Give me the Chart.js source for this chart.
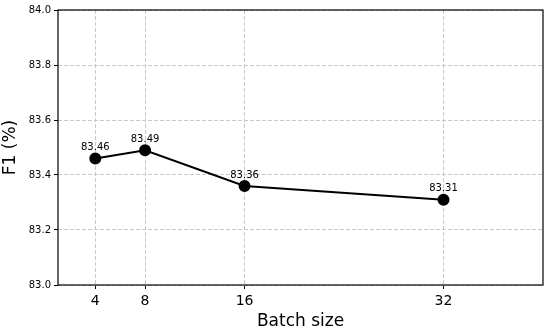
<!DOCTYPE html>
<html>
<head>
<meta charset="utf-8">
<script src="https://cdn.jsdelivr.net/npm/chart.js@4/dist/chart.umd.min.js"></script>
<style>
  html, body { margin: 0; padding: 0; background: #fff; }
  #wrap { width: 550px; height: 332px; position: relative; }
</style>
</head>
<body>
<div id="wrap"><canvas id="f1Chart"></canvas></div>
<script>
// data
const batchSizes = [4, 8, 16, 32];
const f1Scores = [83.46, 83.49, 83.36, 83.31];
const xTicks = [4, 8, 16, 32];
const yTicks = [83.0, 83.2, 83.4, 83.6, 83.8, 84.0];

const FONT = "'DejaVu Sans', sans-serif";

// labels above each point
const pointLabels = {
    id: 'pointLabels',
    afterDatasetsDraw(chart) {
        const ctx = chart.ctx;
        const meta = chart.getDatasetMeta(0);
        ctx.save();
        ctx.font = '10px ' + FONT;
        ctx.fillStyle = '#000';
        ctx.textAlign = 'center';
        ctx.textBaseline = 'bottom';
        meta.data.forEach((pt, i) => {
            ctx.fillText(f1Scores[i].toFixed(2), pt.x, pt.y - 6);
        });
        ctx.restore();
    }
};

// frame round the plot area
const frame = {
    id: 'frame',
    afterDraw(chart) {
        const { left, right, top, bottom } = chart.chartArea;
        const ctx = chart.ctx;
        ctx.save();
        ctx.strokeStyle = '#000';
        ctx.lineWidth = 1.2;
        ctx.strokeRect(left, top, right - left, bottom - top);
        ctx.restore();
    }
};

function initChart() {
    const ctx = document.getElementById('f1Chart').getContext('2d');
    new Chart(ctx, {
        type: 'line',
        data: {
            datasets: [{
                data: batchSizes.map((b, i) => ({ x: b, y: f1Scores[i] })),
                borderColor: '#000',
                backgroundColor: '#000',
                borderWidth: 2,
                pointRadius: 5,
                pointHoverRadius: 5,
                tension: 0
            }]
        },
        options: {
            responsive: true,
            maintainAspectRatio: false,
            animation: false,
            layout: { padding: { top: 10, right: 7, left: 0, bottom: 0 } },
            plugins: {
                legend: { display: false },
                tooltip: { enabled: false }
            },
            scales: {
                x: {
                    type: 'linear',
                    min: 1,
                    max: 40,
                    afterBuildTicks: axis => { axis.ticks = xTicks.map(v => ({ value: v })); },
                    afterFit: axis => { axis.height = 47; },
                    grid: {
                        color: '#c8c8c8',
                        lineWidth: 1,
                        drawTicks: true,
                        tickLength: 4,
                        tickColor: '#000'
                    },
                    border: { display: false, dash: [4, 2] },
                    ticks: {
                        color: '#000',
                        font: { family: FONT, size: 14 },
                        padding: 4,
                        maxRotation: 0,
                        autoSkip: false
                    },
                    title: {
                        display: true,
                        text: 'Batch size',
                        color: '#000',
                        font: { family: FONT, size: 17 },
                        padding: { top: 0, bottom: 0 }
                    }
                },
                y: {
                    min: 83.0,
                    max: 84.0,
                    afterBuildTicks: axis => { axis.ticks = yTicks.map(v => ({ value: v })); },
                    afterFit: axis => { axis.width = 58; },
                    grid: {
                        color: '#c8c8c8',
                        lineWidth: 1,
                        drawTicks: true,
                        tickLength: 4,
                        tickColor: '#000'
                    },
                    border: { display: false, dash: [4, 2] },
                    ticks: {
                        color: '#000',
                        font: { family: FONT, size: 10 },
                        padding: 3,
                        callback: v => Number(v).toFixed(1)
                    },
                    title: {
                        display: true,
                        text: 'F1 (%)',
                        color: '#000',
                        font: { family: FONT, size: 17 },
                        padding: { top: 0, bottom: 2 }
                    }
                }
            }
        },
        plugins: [pointLabels, frame]
    });
}

document.addEventListener('DOMContentLoaded', () => {
    initChart();
});
</script>
</body>
</html>
